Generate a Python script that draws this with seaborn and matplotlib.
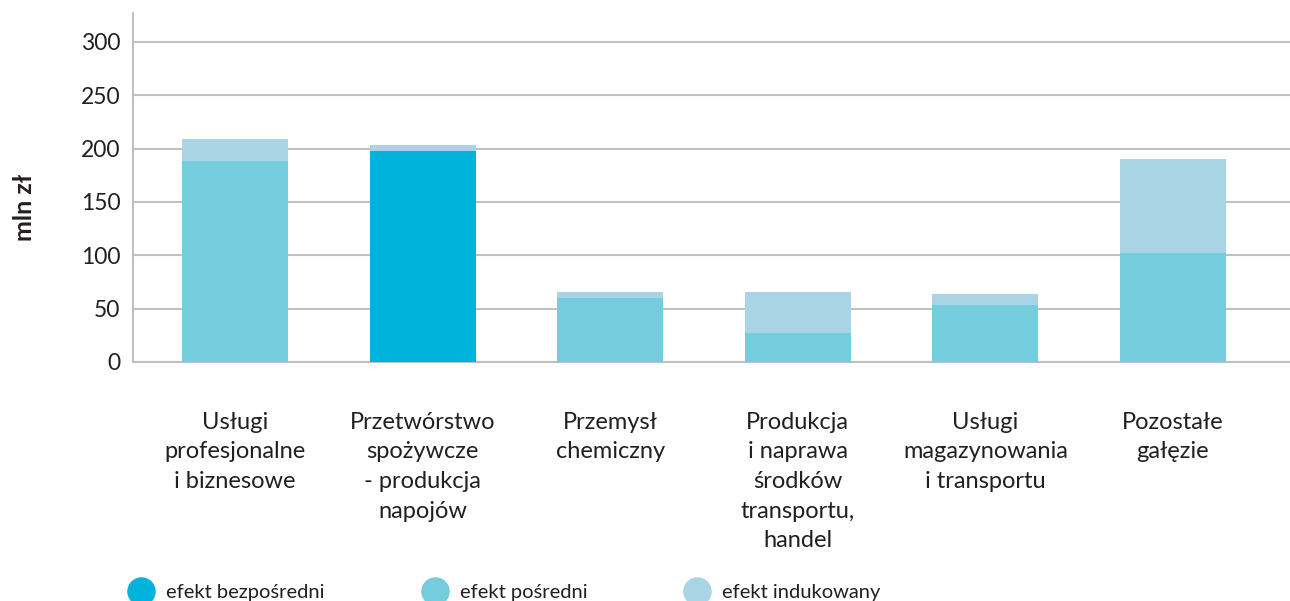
import numpy as np
import pandas as pd
import matplotlib.pyplot as plt
from matplotlib.lines import Line2D
import seaborn as sns

sns.set_theme(style="white")
plt.rcParams['font.family'] = ['Lato', 'DejaVu Sans']

# data (mln zł)
sectors = [
    "Usługi\nprofesjonalne\ni biznesowe",
    "Przetwórstwo\nspożywcze\n- produkcja\nnapojów",
    "Przemysł\nchemiczny",
    "Produkcja\ni naprawa\nśrodków\ntransportu,\nhandel",
    "Usługi\nmagazynowania\ni transportu",
    "Pozostałe\ngałęzie",
]
direct = [0, 198, 0, 0, 0, 0]
indirect = [188, 0, 59.5, 27.6, 53, 102.5]
induced = [21, 5, 6.5, 38.4, 11, 88]

series_labels = ["efekt bezpośredni", "efekt pośredni", "efekt indukowany"]
colors = ["#00b3dc", "#74cddc", "#a8d4e3"]
text_color = "#231f20"
grid_color = "#c0c0c0"

df = pd.DataFrame({"sector": sectors, "direct": direct,
                   "indirect": indirect, "induced": induced})
df["lvl1"] = df["direct"]
df["lvl2"] = df["lvl1"] + df["indirect"]
df["lvl3"] = df["lvl2"] + df["induced"]

W, H = 1290, 601
fig = plt.figure(figsize=(W / 100, H / 100), dpi=100)
ax = fig.add_axes([133 / W, 1 - 362 / H, 1 - 133 / W, (362 - 13) / H])

# stacked bars drawn as layered cumulative totals
for col, c in zip(["lvl3", "lvl2", "lvl1"], colors[::-1]):
    sns.barplot(data=df, x="sector", y=col, color=c, saturation=1,
                width=0.565, errorbar=None, linewidth=0, ax=ax, zorder=2)

ax.set_ylim(0, 327)
ax.set_xlim(-0.544, 5.624)
ax.set_yticks(range(0, 301, 50))
ax.yaxis.grid(True, color=grid_color, lw=1.5)
ax.set_axisbelow(True)
ax.set_xlabel("")
ax.set_ylabel("")

for s in ["top", "right"]:
    ax.spines[s].set_visible(False)
for s in ["left", "bottom"]:
    ax.spines[s].set_color(grid_color)
    ax.spines[s].set_linewidth(1.5)
ax.spines["bottom"].set_zorder(1)

ax.tick_params(axis="y", length=0, pad=9, labelsize=16.5, labelcolor=text_color)
ax.tick_params(axis="x", length=0, pad=36, labelsize=17, labelcolor=text_color)
for lbl in ax.get_xticklabels():
    lbl.set_linespacing(1.5)

fig.text(25 / W, 1 - 207 / H, "mln zł", rotation=90, fontweight="bold",
         fontsize=18, ha="center", va="center", color=text_color)

handles = [Line2D([], [], marker="o", ls="none", markersize=19.5,
                  markerfacecolor=c, markeredgecolor=c) for c in colors]
fig.legend(handles, series_labels, loc="center left",
           bbox_to_anchor=(128 / W, 1 - 592 / H), ncol=3, frameon=False,
           fontsize=14.5, handlelength=1.3, handletextpad=0.6,
           columnspacing=4.8, borderpad=0, borderaxespad=0,
           labelcolor=text_color)

fig.savefig("out.png", dpi=100)
